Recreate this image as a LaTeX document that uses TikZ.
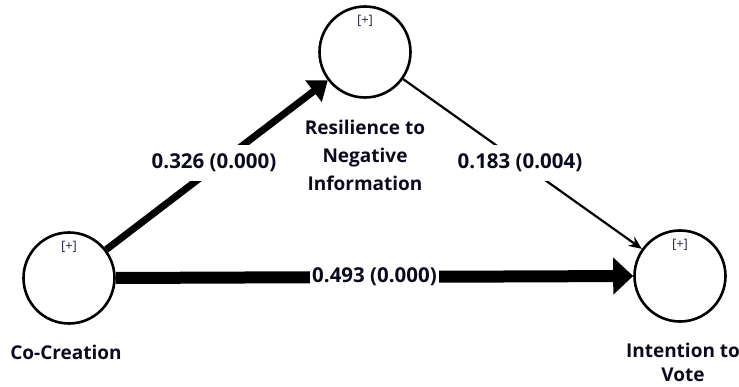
\documentclass[tikz,border=0pt]{standalone}
\usepackage{fontspec}
\setmainfont{Open Sans}
\usetikzlibrary{arrows.meta}
\definecolor{plusc}{RGB}{40,40,70}
\definecolor{txt}{RGB}{10,10,30}
\begin{document}
\begin{tikzpicture}[x=1pt,y=-1pt,
  lv/.style={circle,draw,line width=2.6pt,minimum size=91pt,inner sep=0pt},
  plus/.style={font=\fontsize{13}{14}\selectfont,text=plusc},
  lbl/.style={font=\bfseries\fontsize{19}{28}\selectfont,align=center,text=txt,inner sep=0pt},
  elbl/.style={font=\bfseries\fontsize{20.5}{21}\selectfont,text=txt,fill=white,inner xsep=2pt,inner ysep=9pt}]
\useasboundingbox (0,0) rectangle (739,387);
\node[lv] (co) at (69,278) {};
\node[lv] (re) at (365,52) {};
\node[lv] (iv) at (680,276) {};
\node[plus] (pco) at (69,247) {[+]};
\node[plus] (pre) at (365,21) {[+]};
\node[plus] (piv) at (680,245) {[+]};
\node[lbl] (tco) at (66,352) {Co-Creation};
\node[lbl] (tre) at (365,155) {Resilience to\\Negative\\Information};
\node[lbl,font=\bfseries\fontsize{19}{24}\selectfont] (tiv) at (683,362) {Intention to\\Vote};
\draw[line width=7pt,-{Triangle[length=18pt,width=26pt]}] (co) -- (re)
  node[elbl] at (214,163) (l1) {0.326 (0.000)};
\draw[line width=2.2pt,-{Stealth[length=13pt,width=11pt]}] (re) -- (iv)
  node[elbl] at (520,163) (l2) {0.183 (0.004)};
\draw[line width=12pt,-{Triangle[length=20pt,width=36pt]}] (co.east) -- (iv.west)
  node[elbl,pos=0.5,inner ysep=3pt] (l3) {0.493 (0.000)};
\end{tikzpicture}
\end{document}
